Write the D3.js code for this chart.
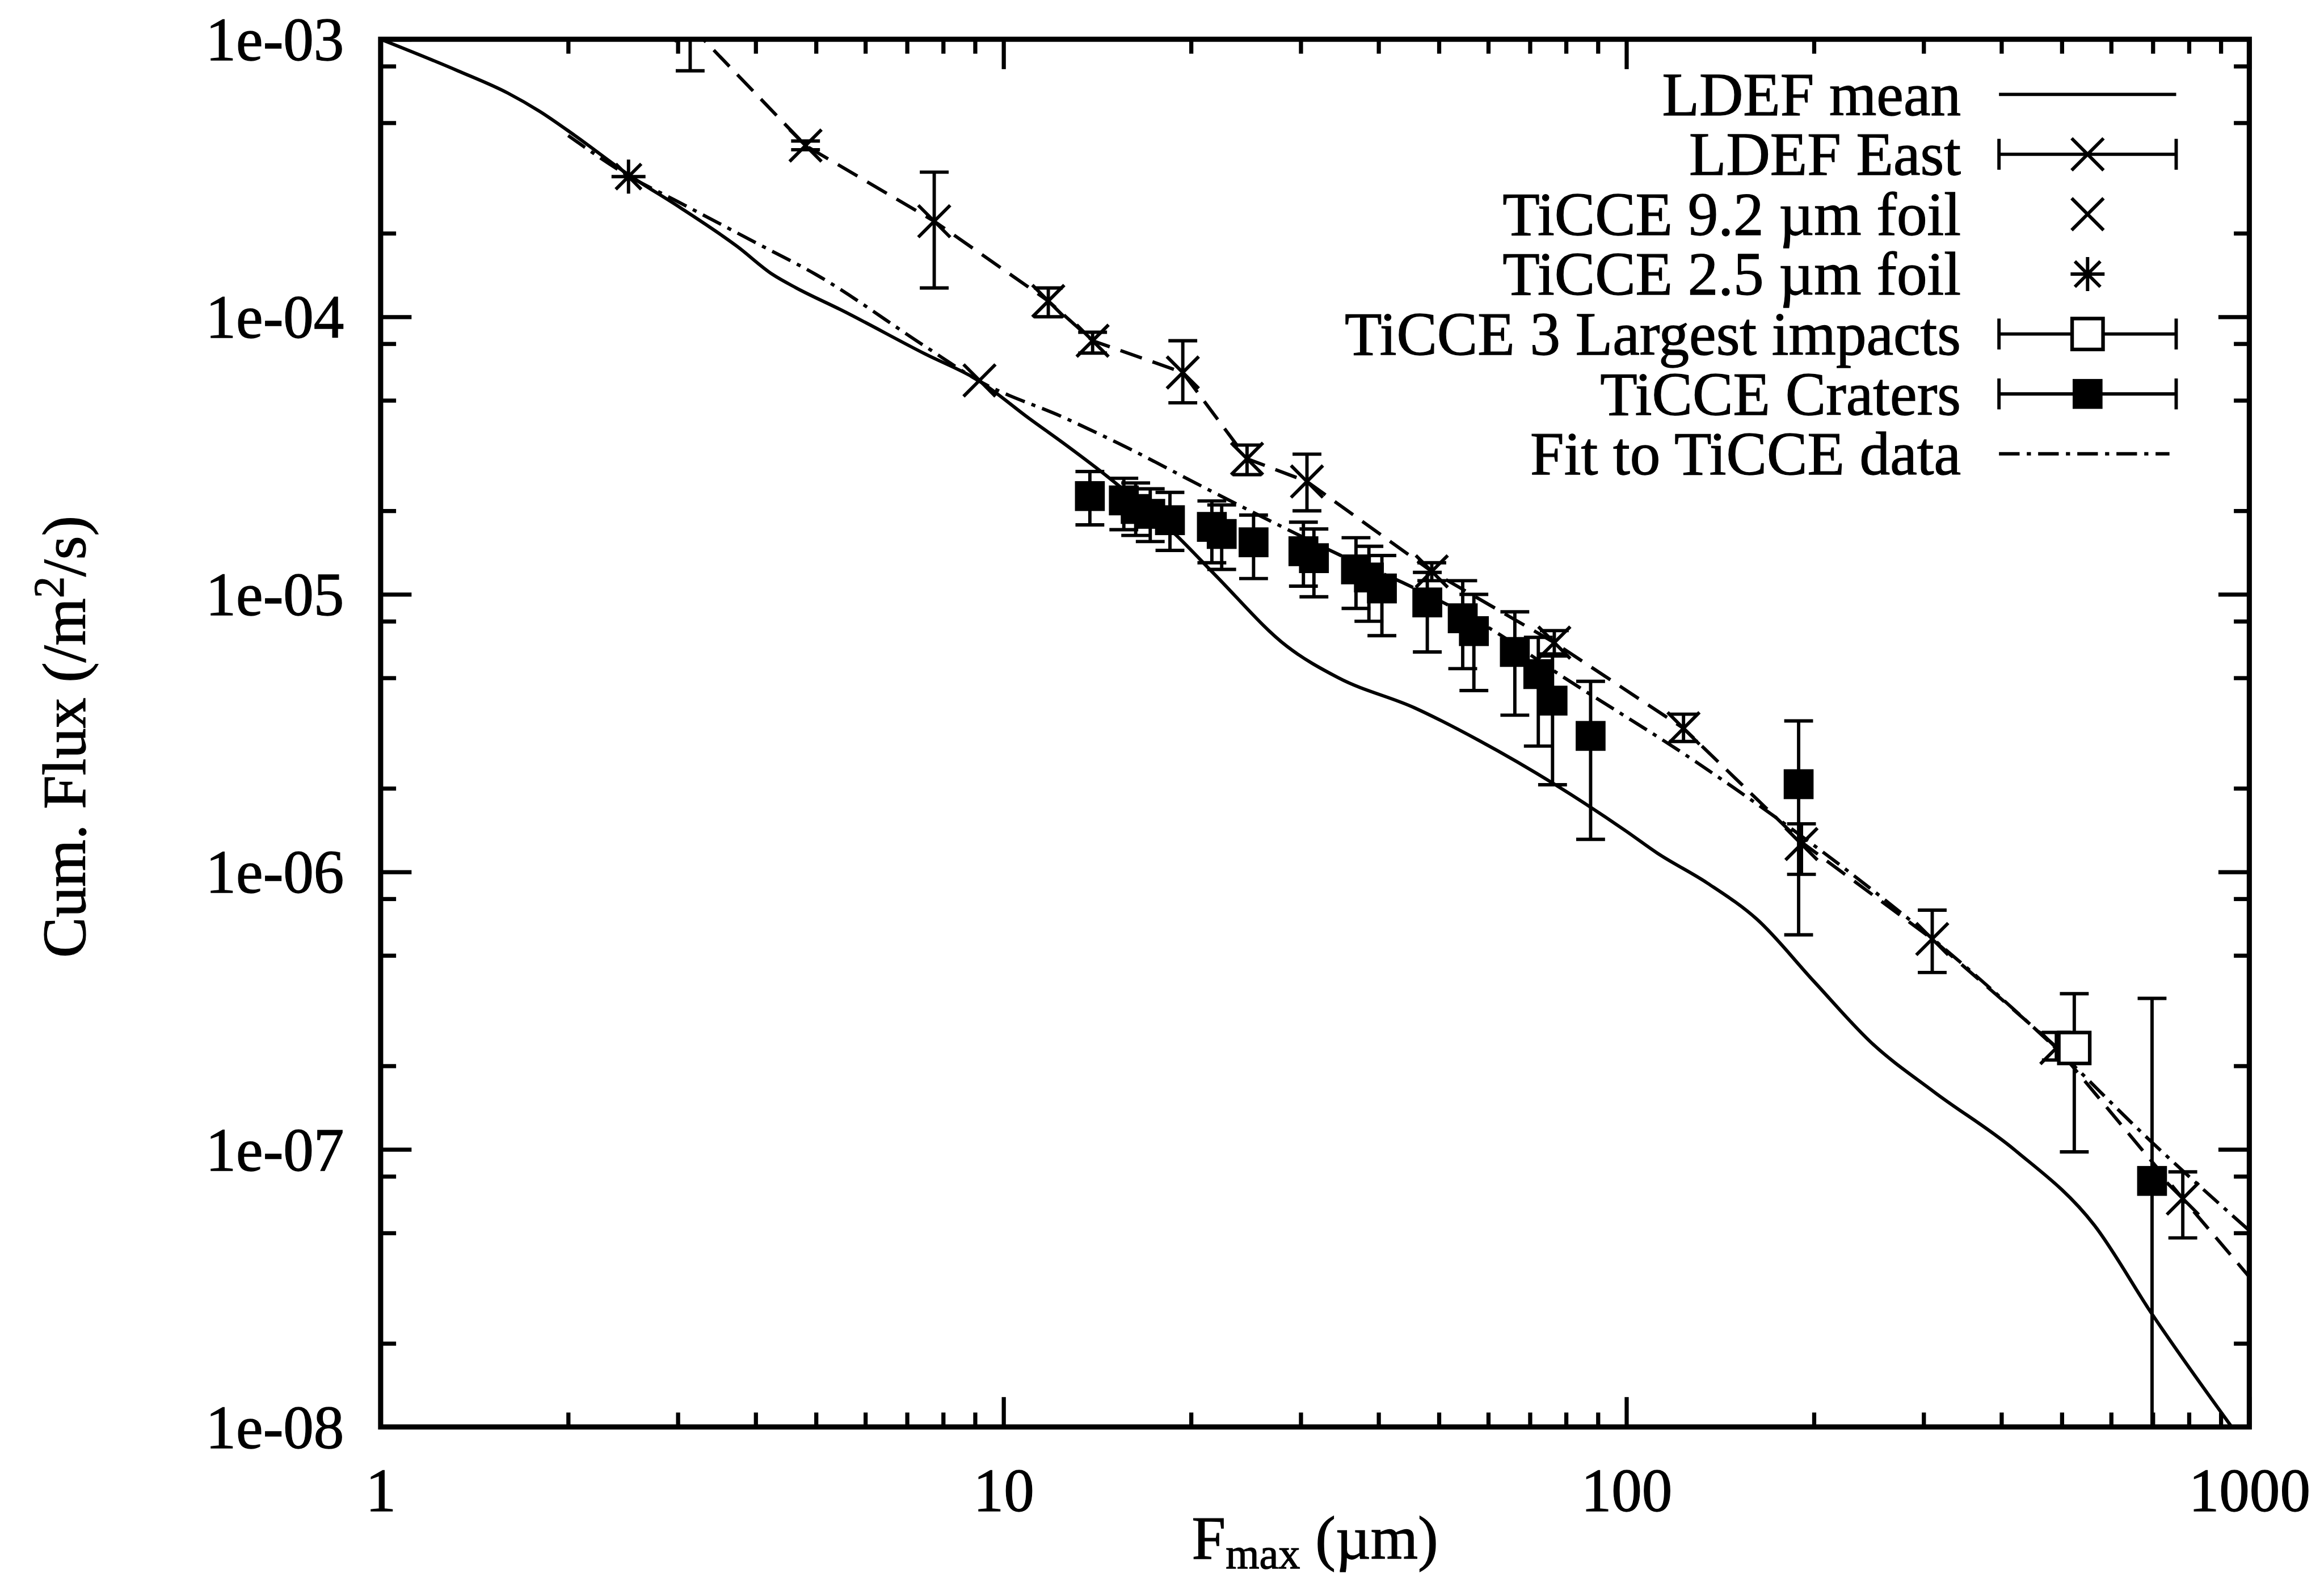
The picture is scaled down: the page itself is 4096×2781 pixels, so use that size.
<!DOCTYPE html>
<html lang="en">
<head>
<meta charset="UTF-8">
<title>Cumulative flux: LDEF and TiCCE</title>
<script src="https://cdn.jsdelivr.net/npm/d3@7"></script>
<style>
    html, body { margin: 0; padding: 0; background: #fff; }
    svg { display: block; }
    svg text { stroke: #000; stroke-width: 1.4px; }
</style>
</head>
<body>
<div id="chart"></div>
<script>
/* values: F_max (um) and cumulative flux (/m^2/s) */

// LDEF mean curve
var ldefMean = [[1, 1e-3], [1.33, 7.7e-4], [1.6, 6.4e-4], [1.8, 5.5e-4], [2.05, 4.5e-4],
    [2.5, 3.25e-4], [3.03, 2.47e-4], [3.74, 1.79e-4], [4.26, 1.42e-4], [4.65, 1.27e-4],
    [5.48, 1.06e-4], [7.48, 7.35e-5], [9.11, 5.9e-5], [11.0, 4.3e-5], [12.6, 3.45e-5],
    [14.8, 2.62e-5], [18.95, 1.63e-5], [21.9, 1.17e-5], [28.5, 6.5e-6], [34.5, 5.0e-6],
    [45.7, 3.9e-6], [57.9, 2.98e-6], [76.9, 2.06e-6], [100, 1.4e-6], [112, 1.17e-6],
    [135, 9.1e-7], [162, 6.75e-7], [200, 4.03e-7], [248, 2.41e-7], [312, 1.61e-7],
    [420, 9.96e-8], [564, 5.33e-8], [698, 2.55e-8], [937, 1e-8]];

// LDEF East: [F, flux, low, high]
var ldefEast = [[3.14, 1.12e-3, 7.7e-4, 1.6e-3], [4.81, 4.14e-4, 4.0e-4, 4.3e-4],
    [7.74, 2.21e-4, 1.27e-4, 3.32e-4], [11.8, 1.14e-4, 1.0e-4, 1.27e-4],
    [13.9, 8.2e-5, 7.4e-5, 8.8e-5], [19.4, 6.3e-5, 4.9e-5, 8.2e-5],
    [24.6, 3.08e-5, 2.7e-5, 3.45e-5], [30.7, 2.55e-5, 2.0e-5, 3.2e-5],
    [48.7, 1.21e-5, 1.12e-5, 1.3e-5], [76.6, 6.7e-6, 6.0e-6, 7.4e-6],
    [123.5, 3.29e-6, 2.95e-6, 3.7e-6], [191, 1.26e-6, 9.8e-7, 1.49e-6],
    [309.7, 5.73e-7, 4.34e-7, 7.28e-7], [490, 2.32e-7, 2.1e-7, 2.64e-7],
    [782, 6.65e-8, 4.8e-8, 8.3e-8]];

// dashed line joining the LDEF East points, running on past the frame
var ldefEastLine = [[3.14, 1.12e-3], [4.81, 4.14e-4], [7.74, 2.21e-4], [11.8, 1.14e-4],
    [13.9, 8.2e-5], [19.4, 6.3e-5], [24.6, 3.08e-5], [30.7, 2.55e-5], [48.7, 1.21e-5],
    [76.6, 6.7e-6], [123.5, 3.29e-6], [191, 1.28e-6], [309.7, 5.73e-7], [490, 2.34e-7],
    [782, 6.65e-8], [1100, 2.7e-8]];

var ticce92 = [[9.15, 5.9e-5]];
var ticce25 = [[2.5, 3.2e-4]];

// TiCCE 3 largest impacts: [F, flux, low, high]
var ticceLargest = [[523.6, 2.32e-7, 9.8e-8, 3.64e-7]];

// TiCCE craters: [F, flux, low, high]
var ticceCraters = [[13.76, 2.26e-5, 1.78e-5, 2.77e-5], [15.6, 2.18e-5, 1.71e-5, 2.62e-5],
    [16.3, 2.03e-5, 1.63e-5, 2.52e-5], [17.2, 1.95e-5, 1.55e-5, 2.4e-5],
    [18.5, 1.85e-5, 1.44e-5, 2.33e-5], [21.6, 1.75e-5, 1.3e-5, 2.17e-5],
    [22.4, 1.65e-5, 1.23e-5, 2.1e-5], [25.2, 1.54e-5, 1.14e-5, 1.93e-5],
    [30.3, 1.43e-5, 1.07e-5, 1.82e-5], [31.5, 1.35e-5, 9.8e-6, 1.72e-5],
    [36.8, 1.23e-5, 8.9e-6, 1.6e-5], [38.6, 1.15e-5, 8.0e-6, 1.49e-5],
    [40.5, 1.05e-5, 7.1e-6, 1.38e-5], [47.9, 9.35e-6, 6.2e-6, 1.2e-5],
    [54.6, 8.2e-6, 5.4e-6, 1.12e-5], [56.9, 7.37e-6, 4.5e-6, 1.0e-5],
    [66.2, 6.2e-6, 3.67e-6, 8.65e-6], [72.2, 5.16e-6, 2.84e-6, 7.0e-6],
    [76.1, 4.14e-6, 2.06e-6, 6.1e-6], [87.6, 3.09e-6, 1.31e-6, 4.86e-6],
    [189, 2.07e-6, 5.93e-7, 3.5e-6], [698, 7.7e-8, 1e-9, 3.5e-7]];

// fit to TiCCE data
var ticceFit = [[2.0, 4.5e-4], [2.5, 3.22e-4], [3.0, 2.6e-4], [4.0, 1.85e-4], [5.0, 1.42e-4],
    [7.5, 7.8e-5], [9.1, 5.9e-5], [12.6, 4.3e-5], [15.3, 3.5e-5],
    [21.2, 2.4e-5], [27.6, 1.78e-5], [34.8, 1.38e-5], [45, 1.07e-5], [60, 7.6e-6],
    [78.5, 5.1e-6], [129, 2.5e-6], [195, 1.3e-6], [310, 5.75e-7], [463, 2.6e-7],
    [698, 1.06e-7], [1000, 5.1e-8]];

var xMajor = [1, 10, 100, 1000];
var xLabels = ["1", "10", "100", "1000"];
var yMajor = [1e-8, 1e-7, 1e-6, 1e-5, 1e-4, 1e-3];
var yLabels = ["1e-08", "1e-07", "1e-06", "1e-05", "1e-04", "1e-03"];
var legendLabels = ["LDEF mean", "LDEF East", "TiCCE 9.2 \u00b5m foil", "TiCCE 2.5 \u00b5m foil",
    "TiCCE 3 Largest impacts", "TiCCE Craters", "Fit to TiCCE data"];

/* drawing is done in the reference's pixel units, viewBox scales it to the window */
var W = 4512, H = 3063;
var plot = {left: 739, right: 4367, top: 76, bottom: 2770};
var LW = 6.5;   // data line width

var svg = d3.select("#chart").append("svg")
    .attr("width", 4096)
    .attr("height", 2781)
    .attr("viewBox", "0 0 " + W + " " + H)
    .attr("font-family", "'Liberation Serif', 'Times New Roman', serif")
    .attr("font-size", 118);

svg.append("rect").attr("width", W).attr("height", H).attr("fill", "#fff");

var x = d3.scaleLog().domain([1, 1000]).range([plot.left, plot.right]);
var y = d3.scaleLog().domain([1e-8, 1e-3]).range([plot.bottom, plot.top]);

// minor ticks: 2..9 on x, only 2, 5, 8 show on y
var xMinor = [];
xMajor.slice(0, -1).forEach(function(d) { for (var k = 2; k < 10; k++) xMinor.push(d * k); });
var yMinor = [];
yMajor.slice(0, -1).forEach(function(d) { [2, 5, 8].forEach(function(k) { yMinor.push(d * k); }); });

function axisGroup(axis, tx, ty) {
    var g = svg.append("g")
        .attr("transform", "translate(" + tx + "," + ty + ")")
        .call(axis);
    g.attr("font-family", null).attr("font-size", null);
    g.select(".domain").remove();
    g.selectAll(".tick line").attr("stroke", "#000").attr("stroke-width", 8);
    return g;
}

var gx = axisGroup(d3.axisBottom(x).tickValues(xMajor).tickSizeInner(-58).tickSizeOuter(0)
    .tickFormat(function(d) { return xLabels[xMajor.indexOf(d)]; }), 0, plot.bottom);
gx.selectAll("text").attr("y", 163).attr("dy", null).attr("fill", "#000");
axisGroup(d3.axisBottom(x).tickValues(xMinor).tickSizeInner(-28).tickSizeOuter(0).tickFormat(""), 0, plot.bottom);
axisGroup(d3.axisTop(x).tickValues(xMajor).tickSizeInner(-58).tickSizeOuter(0).tickFormat(""), 0, plot.top);
axisGroup(d3.axisTop(x).tickValues(xMinor).tickSizeInner(-28).tickSizeOuter(0).tickFormat(""), 0, plot.top);

var gy = axisGroup(d3.axisLeft(y).tickValues(yMajor).tickSizeInner(-60).tickSizeOuter(0).tickPadding(71)
    .tickFormat(function(d) { return yLabels[yMajor.indexOf(d)]; }), plot.left, 0);
gy.selectAll("text").attr("dy", "0.34em").attr("fill", "#000");
axisGroup(d3.axisLeft(y).tickValues(yMinor).tickSizeInner(-30).tickSizeOuter(0).tickFormat(""), plot.left, 0);
axisGroup(d3.axisRight(y).tickValues(yMajor).tickSizeInner(-60).tickSizeOuter(0).tickFormat(""), plot.right, 0);
axisGroup(d3.axisRight(y).tickValues(yMinor).tickSizeInner(-30).tickSizeOuter(0).tickFormat(""), plot.right, 0);

/* axis titles */
svg.append("text")
    .attr("transform", "translate(165,1430) rotate(-90)")
    .attr("text-anchor", "middle")
    .call(function(t) {
        t.append("tspan").text("Cum. Flux (/m");
        t.append("tspan").attr("dy", -42).attr("font-size", 84).text("2");
        t.append("tspan").attr("dy", 42).text("/s)");
    });

svg.append("text")
    .attr("x", (plot.left + plot.right) / 2)
    .attr("y", 3026)
    .attr("text-anchor", "middle")
    .call(function(t) {
        t.append("tspan").text("F");
        t.append("tspan").attr("dy", 18).attr("font-size", 84).text("max");
        t.append("tspan").attr("dy", -18).text(" (\u00b5m)");
    });

/* plot contents, clipped to the frame */
svg.append("clipPath").attr("id", "clip")
    .append("rect")
    .attr("x", plot.left).attr("y", plot.top)
    .attr("width", plot.right - plot.left).attr("height", plot.bottom - plot.top);

var area = svg.append("g").attr("clip-path", "url(#clip)");

var smoothLine = d3.line().x(function(d) { return x(d[0]); }).y(function(d) { return y(d[1]); })
    .curve(d3.curveMonotoneX);
var straightLine = d3.line().x(function(d) { return x(d[0]); }).y(function(d) { return y(d[1]); });

area.append("path").datum(ldefMean)
    .attr("d", smoothLine).attr("fill", "none").attr("stroke", "#000").attr("stroke-width", LW);
area.append("path").datum(ldefEastLine)
    .attr("d", straightLine).attr("fill", "none").attr("stroke", "#000").attr("stroke-width", LW)
    .attr("stroke-dasharray", "44,22");
area.append("path").datum(ticceFit)
    .attr("d", smoothLine).attr("fill", "none").attr("stroke", "#000").attr("stroke-width", LW)
    .attr("stroke-dasharray", "40,14,8,14");

var CAP = 28;

function errorBars(data) {
    var g = area.append("g").attr("stroke", "#000").attr("stroke-width", LW);
    var eb = g.selectAll("g").data(data).enter().append("g");
    eb.append("line")
        .attr("x1", function(d) { return x(d[0]); }).attr("x2", function(d) { return x(d[0]); })
        .attr("y1", function(d) { return y(d[2]); }).attr("y2", function(d) { return y(d[3]); });
    eb.append("line")
        .attr("x1", function(d) { return x(d[0]) - CAP; }).attr("x2", function(d) { return x(d[0]) + CAP; })
        .attr("y1", function(d) { return y(d[2]); }).attr("y2", function(d) { return y(d[2]); });
    eb.append("line")
        .attr("x1", function(d) { return x(d[0]) - CAP; }).attr("x2", function(d) { return x(d[0]) + CAP; })
        .attr("y1", function(d) { return y(d[3]); }).attr("y2", function(d) { return y(d[3]); });
}

function crossPath(cx, cy, r) {
    return "M" + (cx - r) + "," + (cy - r) + "L" + (cx + r) + "," + (cy + r) +
        "M" + (cx - r) + "," + (cy + r) + "L" + (cx + r) + "," + (cy - r);
}
function starPath(cx, cy, r) {
    return crossPath(cx, cy, r * 0.75) +
        "M" + cx + "," + (cy - r) + "L" + cx + "," + (cy + r) +
        "M" + (cx - r) + "," + cy + "L" + (cx + r) + "," + cy;
}

errorBars(ldefEast);
errorBars(ticceCraters);
errorBars(ticceLargest);

area.append("g").selectAll("path").data(ldefEast).enter().append("path")
    .attr("d", function(d) { return crossPath(x(d[0]), y(d[1]), 31); })
    .attr("fill", "none").attr("stroke", "#000").attr("stroke-width", LW);

area.append("g").selectAll("path").data(ticce92).enter().append("path")
    .attr("d", function(d) { return crossPath(x(d[0]), y(d[1]), 31); })
    .attr("fill", "none").attr("stroke", "#000").attr("stroke-width", LW);

area.append("g").selectAll("path").data(ticce25).enter().append("path")
    .attr("d", function(d) { return starPath(x(d[0]), y(d[1]), 33); })
    .attr("fill", "none").attr("stroke", "#000").attr("stroke-width", LW);

area.append("g").selectAll("rect").data(ticceLargest).enter().append("rect")
    .attr("x", function(d) { return x(d[0]) - 30; }).attr("y", function(d) { return y(d[1]) - 30; })
    .attr("width", 60).attr("height", 60)
    .attr("fill", "#fff").attr("stroke", "#000").attr("stroke-width", 7);

area.append("g").selectAll("rect").data(ticceCraters).enter().append("rect")
    .attr("x", function(d) { return x(d[0]) - 29; }).attr("y", function(d) { return y(d[1]) - 29; })
    .attr("width", 58).attr("height", 58)
    .attr("fill", "#000");

/* frame */
svg.append("rect")
    .attr("x", plot.left).attr("y", plot.top)
    .attr("width", plot.right - plot.left).attr("height", plot.bottom - plot.top)
    .attr("fill", "none").attr("stroke", "#000").attr("stroke-width", 10);

/* key */
var key = svg.append("g");
var keyTextX = 3807, keyX1 = 3881, keyX2 = 4225, keyMid = 4053;
var rowY = function(i) { return 183 + i * 116.3; };

key.selectAll("text").data(legendLabels).enter().append("text")
    .attr("x", keyTextX).attr("y", function(d, i) { return rowY(i); })
    .attr("dy", "0.34em").attr("text-anchor", "end").attr("fill", "#000")
    .text(function(d) { return d; });

var ks = key.append("g").attr("stroke", "#000").attr("stroke-width", LW).attr("fill", "none");
ks.append("line").attr("x1", keyX1).attr("x2", keyX2).attr("y1", rowY(0)).attr("y2", rowY(0));
[1, 4, 5].forEach(function(i) {
    ks.append("line").attr("x1", keyX1).attr("x2", keyX2).attr("y1", rowY(i)).attr("y2", rowY(i));
    ks.append("line").attr("x1", keyX1).attr("x2", keyX1).attr("y1", rowY(i) - 30).attr("y2", rowY(i) + 30);
    ks.append("line").attr("x1", keyX2).attr("x2", keyX2).attr("y1", rowY(i) - 30).attr("y2", rowY(i) + 30);
});
ks.append("path").attr("d", crossPath(keyMid, rowY(1), 31));
ks.append("path").attr("d", crossPath(keyMid, rowY(2), 31));
ks.append("path").attr("d", starPath(keyMid, rowY(3), 33));
ks.append("rect").attr("x", keyMid - 30).attr("y", rowY(4) - 30).attr("width", 60).attr("height", 60)
    .attr("fill", "#fff").attr("stroke-width", 7);
ks.append("rect").attr("x", keyMid - 29).attr("y", rowY(5) - 29).attr("width", 58).attr("height", 58)
    .attr("fill", "#000").attr("stroke", "none");
ks.append("line").attr("x1", keyX1).attr("x2", 4212).attr("y1", rowY(6)).attr("y2", rowY(6))
    .attr("stroke-dasharray", "40,14,8,14");
</script>
</body>
</html>
